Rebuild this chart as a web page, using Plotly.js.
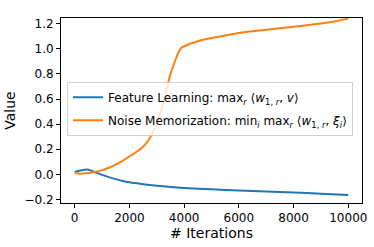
<!DOCTYPE html>
<html>
<head>
<meta charset="utf-8">
<script src="https://cdn.plot.ly/plotly-3.0.1.min.js"></script>
<style>html,body{margin:0;padding:0;background:#fff;}#chart{width:374px;height:247px;}</style>
</head>
<body>
<div id="chart"></div>
<script>
const featureIters = [0, 250, 450, 600, 750, 1000, 1250, 1500, 1750, 2000, 2500, 3000, 3500, 4000, 5000, 6000, 7000, 8000, 9000, 10000];
const featureValues = [0.02, 0.032, 0.038, 0.03, 0.016, -0.004, -0.022, -0.038, -0.052, -0.063, -0.078, -0.09, -0.1, -0.108, -0.119, -0.128, -0.136, -0.144, -0.154, -0.165];

const noiseIters = [0, 200, 500, 750, 1000, 1250, 1500, 1750, 2000, 2250, 2500, 2750, 3000, 3250, 3500, 3750, 3900, 4000, 4500, 5000, 5500, 6000, 6500, 7000, 7500, 8000, 8500, 9000, 9500, 10000];
const noiseValues = [0.013, 0.004, 0.01, 0.02, 0.034, 0.053, 0.078, 0.108, 0.142, 0.178, 0.22, 0.29, 0.4, 0.58, 0.8, 0.95, 1.008, 1.02, 1.06, 1.085, 1.105, 1.125, 1.14, 1.152, 1.163, 1.175, 1.188, 1.202, 1.218, 1.24];

const featureName = "Feature Learning: max<sub><i>r</i></sub> ⟨<i>w</i><sub>1, <i>r</i></sub>, <i>v</i>⟩";
const noiseName = "Noise Memorization: min<sub><i>i</i></sub> max<sub><i>r</i></sub> ⟨<i>w</i><sub>1, <i>r</i></sub>, <i>ξ<sub>i</sub></i>⟩";

const yTicks = [-0.2, 0.0, 0.2, 0.4, 0.6, 0.8, 1.0, 1.2];
const xTicks = [0, 2000, 4000, 6000, 8000, 10000];

const font = "DejaVu Sans, sans-serif";

const traces = [
  {x: featureIters, y: featureValues, mode: "lines", name: featureName, legendgroup: "a",
   line: {color: "#1f77b4", width: 2, shape: "spline", smoothing: 0.6}},
  {x: noiseIters, y: noiseValues, mode: "lines", name: noiseName, legendgroup: "b",
   line: {color: "#ff7f0e", width: 2, shape: "spline", smoothing: 0.3}}
];

const axisCommon = {
  showgrid: false, zeroline: false, showline: true, mirror: true,
  linecolor: "#000", linewidth: 1, ticks: "outside", ticklen: 4, tickwidth: 1,
  tickcolor: "#000", tickfont: {family: font, size: 12, color: "#000"}
};

const layout = {
  width: 374, height: 247,
  margin: {l: 61, r: 12, t: 18, b: 44},
  paper_bgcolor: "#fff", plot_bgcolor: "#fff",
  showlegend: true,
  xaxis: Object.assign({}, axisCommon, {
    range: [-500, 10500], tickvals: xTicks, ticktext: xTicks.map(String),
    title: {text: "# Iterations", font: {family: font, size: 14, color: "#000"}, standoff: 2}
  }),
  yaxis: Object.assign({}, axisCommon, {
    range: [-0.228, 1.245], tickvals: yTicks, ticktext: yTicks.map(v => (v < 0 ? "\u2212" : "") + Math.abs(v).toFixed(1)),
    title: {text: "Value", font: {family: font, size: 14, color: "#000"}, standoff: 5}
  }),
  legend: {
    x: 0.02, y: 0.655, xanchor: "left", yanchor: "top", traceorder: "grouped",
    bgcolor: "rgba(255,255,255,0.8)", bordercolor: "#d0d0d0", borderwidth: 1,
    font: {family: font, size: 12, color: "#000"}, itemwidth: 30, tracegroupgap: 4
  }
};

Plotly.newPlot("chart", traces, layout, {displayModeBar: false, staticPlot: true});
</script>
</body>
</html>
